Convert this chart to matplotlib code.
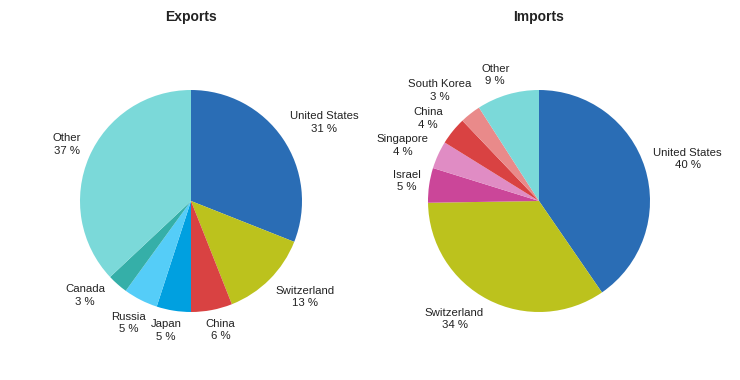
import matplotlib
matplotlib.use("Agg")
import matplotlib.pyplot as plt
import numpy as np

exp_labels = ["United States", "Switzerland", "China", "Japan", "Russia", "Canada", "Other"]
exp_values = [31, 13, 6, 5, 5, 3, 37]
exp_colors = ["#2a6db5", "#bcc21d", "#d94242", "#00a0e0", "#55cdf8", "#35afa8", "#7bd9d9"]

imp_labels = ["United States", "Switzerland", "Israel", "Singapore", "China", "South Korea", "Other"]
imp_values = [40, 34, 5, 4, 4, 3, 9]
imp_colors = ["#2a6db5", "#bcc21d", "#cb4699", "#e08cc4", "#d94242", "#e98a8a", "#7bd9d9"]

plt.rcParams['font.family'] = ['Liberation Sans', 'DejaVu Sans']

W, H = 740, 380
fig = plt.figure(figsize=(W / 100, H / 100), dpi=100)
fig.patch.set_facecolor("white")
renderer = fig.canvas.get_renderer()


def label_center(ang, w, h, d=1.08):
    a = np.deg2rad(ang)
    c, s = np.cos(a), np.sin(a)
    x = d * c + w / 2 * np.clip(2.5 * c, -1, 1)
    y = d * s + h / 2 * np.clip(2.0 * s, -1, 1)
    return x, y


def draw(cx, cy, r, labels, values, colors, title):
    ax = fig.add_axes([(cx - r) / W, (H - cy - r) / H, 2 * r / W, 2 * r / H])
    wedges, _ = ax.pie(values, colors=colors, startangle=90, counterclock=False,
                       wedgeprops=dict(linewidth=0))
    ax.set_xlim(-1, 1)
    ax.set_ylim(-1, 1)
    ax.set_aspect("equal")
    texts, sizes, angles = [], [], []
    for wdg, lab, v in zip(wedges, labels, values):
        ang = (wdg.theta1 + wdg.theta2) / 2
        t = ax.text(0, 0, f"{lab}\n{v} %", ha="center", va="center",
                    fontsize=8.2, color="#222222", multialignment="center",
                    linespacing=1.3, clip_on=False)
        bb = t.get_window_extent(renderer)
        texts.append(t)
        sizes.append((bb.width / r, bb.height / r))
        angles.append(ang)
    n = len(texts)
    pad = 0.04
    for _ in range(400):
        moved = False
        for i in range(n):
            j = (i + 1) % n
            xi, yi = label_center(angles[i], *sizes[i])
            xj, yj = label_center(angles[j], *sizes[j])
            ox = (sizes[i][0] + sizes[j][0]) / 2 + pad - abs(xi - xj)
            oy = (sizes[i][1] + sizes[j][1]) / 2 + pad - abs(yi - yj)
            if ox > 0 and oy > 0:
                angles[i] += 0.5
                angles[j] -= 0.5
                moved = True
        if not moved:
            break
    for t, ang, sz in zip(texts, angles, sizes):
        t.set_position(label_center(ang, *sz))
    fig.text(cx / W, 1 - 17 / H, title, ha="center", va="center",
             fontsize=10, fontweight="bold", color="#222222")


draw(191, 201, 111, exp_labels, exp_values, exp_colors, "Exports")
draw(539, 201, 111, imp_labels, imp_values, imp_colors, "Imports")

fig.savefig("out.png", dpi=100)
